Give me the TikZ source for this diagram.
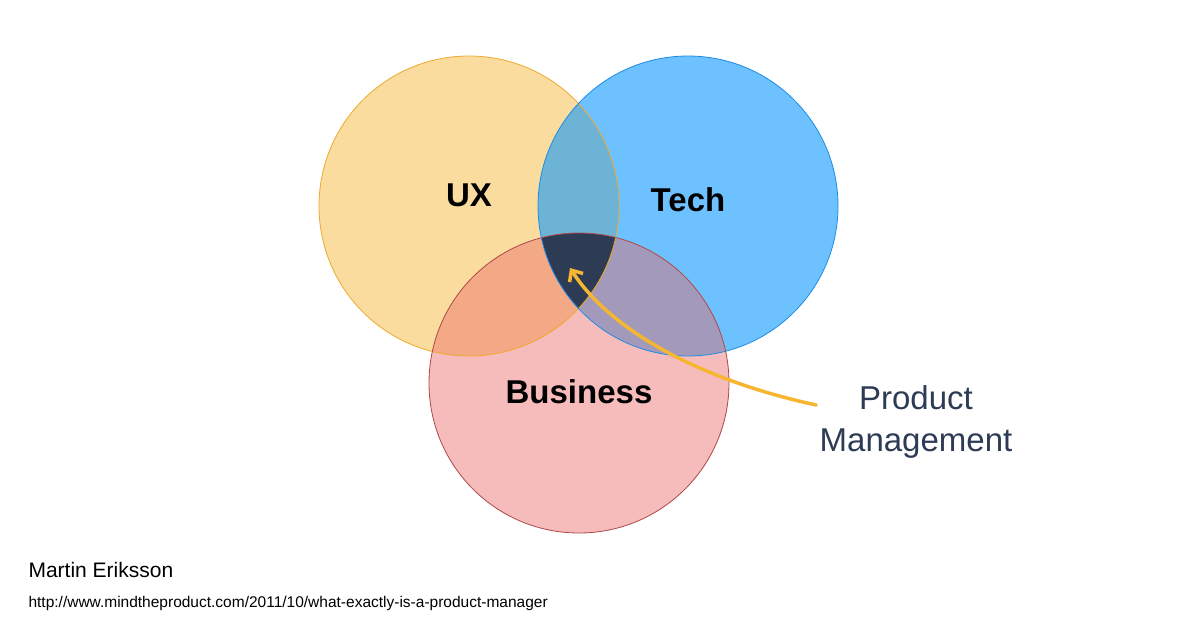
\documentclass[tikz,border=0pt]{standalone}
\usepackage{fontspec}
\setmainfont{Liberation Sans}
\usetikzlibrary{arrows.meta}
\definecolor{uxf}{HTML}{F9DC9E}\definecolor{uxs}{HTML}{EFA92E}
\definecolor{tef}{HTML}{6EC1FF}\definecolor{tes}{HTML}{1C8DE6}
\definecolor{buf}{HTML}{F6BBBB}\definecolor{bus}{HTML}{B04848}
\definecolor{ut}{HTML}{6DB3D6}\definecolor{ub}{HTML}{F3A886}
\definecolor{tb}{HTML}{A39ABB}\definecolor{ctr}{HTML}{2D3B55}
\definecolor{arr}{HTML}{F5B731}
\tikzset{lbl/.style={font=\fontsize{33}{36}\selectfont, text=black},
pm/.style={font=\fontsize{33}{42}\selectfont, text=ctr, align=center}}
\begin{document}
\begin{tikzpicture}[x=1pt,y=-1pt]
\useasboundingbox (0,0) rectangle (1200,630);
\fill[white] (0,0) rectangle (1200,630);
\def\ux{(469,206) circle (150)}
\def\te{(688,206) circle (150)}
\def\bu{(579,383) circle (150)}
\fill[uxf] \ux; \fill[tef] \te; \fill[buf] \bu;
\begin{scope}\clip \ux; \fill[ut] \te; \end{scope}
\begin{scope}\clip \ux; \fill[ub] \bu; \end{scope}
\begin{scope}\clip \te; \fill[tb] \bu; \end{scope}
\begin{scope}\clip \ux; \clip \te; \fill[ctr] \bu; \end{scope}
\draw[uxs, line width=0.8] \ux;
\draw[tes, line width=0.8] \te;
\draw[bus, line width=0.8] \bu;
\node[lbl] (ux) at (469,195) {\textbf{UX}};
\node[lbl] (tech) at (688,200) {\textbf{Tech}};
\node[lbl] (biz) at (579,392) {\textbf{Business}};
\node[pm] (pm) at (916,422) {Product\\Management};
\coordinate (tip) at (570,268);
\draw[arr, line width=3.5, line cap=round, -{Straight Barb[length=9,width=16]}]
  (pm.west |- 0,405) .. controls (700,380) and (610,330) .. (tip);
\node[anchor=west, font=\fontsize{21}{24}\selectfont] (author) at (25,570) {Martin Eriksson};
\node[anchor=west, font=\fontsize{15.5}{18}\selectfont] (url) at (25,603) {http://www.mindtheproduct.com/2011/10/what-exactly-is-a-product-manager};
\end{tikzpicture}
\end{document}
